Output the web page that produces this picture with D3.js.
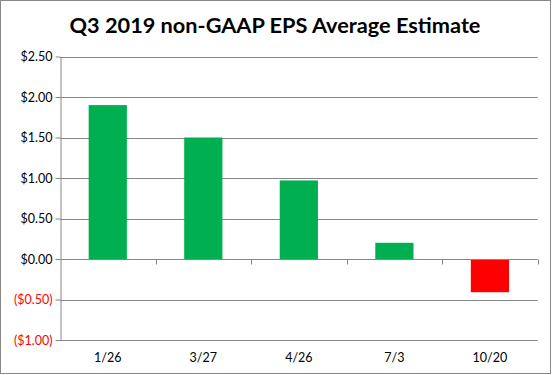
<!DOCTYPE html>
<html lang="en">
<head>
    <meta charset="UTF-8">
    <title>Q3 2019 non-GAAP EPS Average Estimate</title>
    <script src="https://d3js.org/d3.v7.min.js"></script>
    <style>
        body { margin: 0; background: #fff; }
        svg { display: block; }
        text { font-family: Lato, "Open Sans", sans-serif; }
    </style>
</head>
<body>
    <svg width="553" height="375"></svg>
    <script>
        // Data
        const dates = ["1/26", "3/27", "4/26", "7/3", "10/20"];
        const eps = [1.90, 1.50, 0.97, 0.20, -0.41];
        const yTicks = [2.5, 2.0, 1.5, 1.0, 0.5, 0.0, -0.5, -1.0];

        const svg = d3.select("svg");
        const margin = { left: 60, right: 15, top: 56.5, bottom: 35 };
        const W = 553, H = 375;

        // outer chart border
        svg.append("rect")
            .attr("x", 0.5).attr("y", 0.5)
            .attr("width", 550).attr("height", 373)
            .attr("fill", "#fff").attr("stroke", "#888");

        const x = d3.scaleBand()
            .domain(dates)
            .range([margin.left, 537.7])
            .paddingInner(0.6)
            .paddingOuter(0.3);

        const y = d3.scaleLinear()
            .domain([-1, 2.5])
            .range([340, margin.top]);

        // gridlines
        svg.append("g")
            .selectAll("line")
            .data(yTicks.filter(d => d !== 0))
            .join("line")
            .attr("x1", margin.left).attr("x2", 537.7)
            .attr("y1", d => Math.round(y(d)) + 0.5)
            .attr("y2", d => Math.round(y(d)) + 0.5)
            .attr("stroke", "#868686");

        // bars
        svg.append("g")
            .selectAll("rect")
            .data(eps)
            .join("rect")
            .attr("x", (d, i) => x(dates[i]))
            .attr("width", x.bandwidth())
            .attr("y", d => y(Math.max(0, d)))
            .attr("height", d => Math.abs(y(d) - y(0)))
            .attr("fill", d => d < 0 ? "#FF0000" : "#00B050");

        // y axis
        const fmt = d => d < 0 ? "($" + Math.abs(d).toFixed(2) + ")" : "$" + d.toFixed(2);
        const yAxis = svg.append("g")
            .attr("transform", `translate(${margin.left + 0.5},0)`)
            .call(d3.axisLeft(y).tickValues(yTicks).tickFormat(fmt).tickSize(5).tickSizeOuter(0).tickPadding(3));
        yAxis.select(".domain").attr("stroke", "#868686");
        yAxis.selectAll(".tick line").attr("stroke", "#868686");
        yAxis.selectAll(".tick text")
            .attr("font-size", 12.5)
            .attr("font-family", "Lato, sans-serif")
            .attr("fill", d => d < 0 ? "#FF0000" : "#000");

        // x axis line at zero with boundary ticks
        const zy = Math.round(y(0)) + 0.5;
        svg.append("line")
            .attr("x1", margin.left).attr("x2", 537.7)
            .attr("y1", zy).attr("y2", zy)
            .attr("stroke", "#868686");
        const step = x.step();
        svg.append("g")
            .selectAll("line")
            .data(dates)
            .join("line")
            .attr("x1", (d, i) => Math.round(x(d) + x.bandwidth() + step * 0.3) + 0.5)
            .attr("x2", (d, i) => Math.round(x(d) + x.bandwidth() + step * 0.3) + 0.5)
            .attr("y1", zy).attr("y2", zy + 5)
            .attr("stroke", "#868686");

        // category labels at bottom
        svg.append("g")
            .selectAll("text")
            .data(dates)
            .join("text")
            .attr("x", d => x(d) + x.bandwidth() / 2)
            .attr("y", 362)
            .attr("text-anchor", "middle")
            .attr("font-size", 12.5)
            .text(d => d);

        // title
        const title = svg.append("text")
            .attr("x", 275)
            .attr("y", 33)
            .attr("text-anchor", "middle")
            .attr("font-size", 22)
            .attr("font-weight", "bold")
            .text("Q3 2019 non-GAAP EPS Average Estimate");
        const tw = title.node().getComputedTextLength();
        title.attr("font-size", 22 * 411 / tw);
    </script>
</body>
</html>
